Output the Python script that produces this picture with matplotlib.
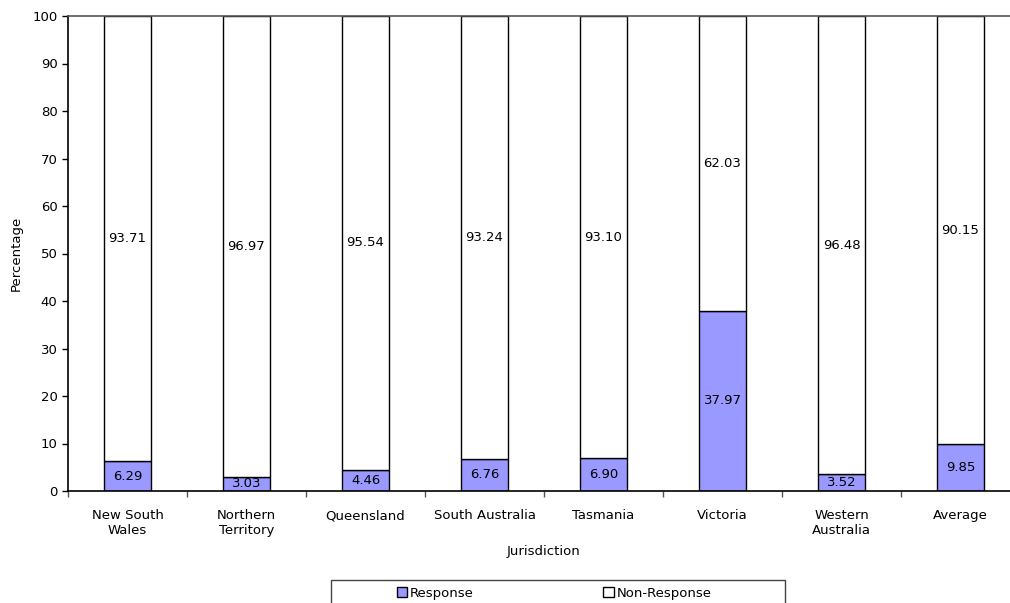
import numpy as np
import matplotlib.pyplot as plt
from matplotlib.patches import Rectangle, Patch

jurisdictions = ["New South\nWales", "Northern\nTerritory", "Queensland", "South Australia",
                 "Tasmania", "Victoria", "Western\nAustralia", "Average"]
response = [6.29, 3.03, 4.46, 6.76, 6.90, 37.97, 3.52, 9.85]
non_response = [93.71, 96.97, 95.54, 93.24, 93.10, 62.03, 96.48, 90.15]

resp_color = "#9999FF"
fs = 9.5

fig = plt.figure(figsize=(10.10, 6.03), dpi=100)
# plot area runs slightly past the right edge of the figure
ax = fig.add_axes([68 / 1010, 1 - 491 / 603, 952 / 1010, 475 / 603])

x = np.arange(len(jurisdictions))
w = 0.4
ax.bar(x, response, width=w, color=resp_color, edgecolor="black", linewidth=1.0)
ax.bar(x, non_response, width=w, bottom=response, color="white", edgecolor="black", linewidth=1.0)

for i in range(len(x)):
    ax.text(x[i], response[i] / 2, f"{response[i]:.2f}", ha="center", va="center", fontsize=fs)
    ax.text(x[i], response[i] + non_response[i] / 2, f"{non_response[i]:.2f}",
            ha="center", va="center", fontsize=fs)

ax.set_xlim(-0.5, len(x) - 0.5)
ax.set_ylim(0, 100)
ax.set_yticks(range(0, 101, 10))
ax.tick_params(axis="y", labelsize=fs, length=4, width=1, direction="out")

# category boundary ticks on the x axis, labels centered on bars
ax.set_xticks(np.arange(-0.5, len(x), 1.0))
ax.set_xticklabels([])
ax.set_xticks(x, minor=True)
ax.set_xticklabels(jurisdictions, minor=True, fontsize=fs)
ax.tick_params(axis="x", which="major", length=4, width=1, color="#555555")
ax.tick_params(axis="x", which="minor", length=0, pad=13)

ax.set_xlabel("Jurisdiction", fontsize=fs, labelpad=6)
ax.set_ylabel("Percentage", fontsize=fs, labelpad=7)

ax.spines["left"].set_linewidth(1.2)
ax.spines["bottom"].set_linewidth(1.2)
ax.spines["top"].set_color("#555555")
ax.spines["top"].set_linewidth(1.2)

# legend box below the axis
fig.patches.append(Rectangle((331 / 1010, -0.02), 454 / 1010, 1 - 580 / 603 + 0.02,
                             transform=fig.transFigure, facecolor="white",
                             edgecolor="#444444", linewidth=1.0))
handles = [Patch(facecolor=resp_color, edgecolor="black", label="Response"),
           Patch(facecolor="white", edgecolor="black", label="Non-Response")]
fig.legend(handles=handles, loc="center", bbox_to_anchor=(554 / 1010, 1 - 593 / 603),
           ncol=2, frameon=False, fontsize=fs, handlelength=0.8, handleheight=0.8,
           handletextpad=0.2, columnspacing=9.8, borderpad=0)

fig.savefig("out.png", dpi=100)
